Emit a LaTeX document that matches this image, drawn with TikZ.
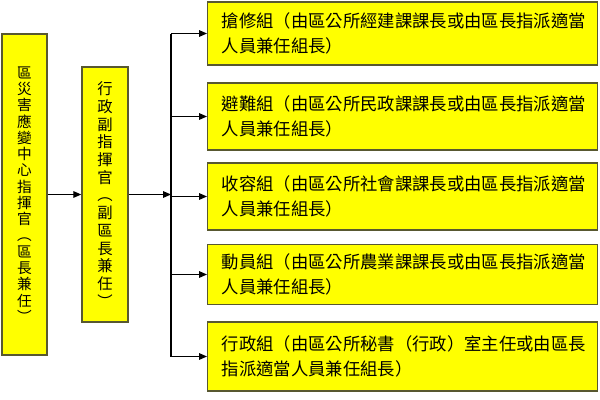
\documentclass[tikz,border=0pt]{standalone}
\usepackage{fontspec}
\setmainfont{Noto Sans CJK TC}
\usetikzlibrary{arrows.meta}
\definecolor{boxline}{RGB}{88,88,48}
\definecolor{boxfill}{RGB}{255,255,0}
\begin{document}
\begin{tikzpicture}[x=0.75pt,y=-0.75pt,
  ybox/.style={draw=boxline,fill=boxfill,line width=1.1pt,rectangle,inner sep=0pt},
  vbox/.style={ybox,align=center},
  gbox/.style={ybox,anchor=west,minimum width=292.5pt,text width=271.5pt,inner xsep=10.5pt,align=left,
     font=\fontsize{13}{18.8}\selectfont},
  arr/.style={-{Triangle[length=6pt,width=5pt]},line width=0.8pt,black},
  conn/.style={line width=0.8pt,black}]
\useasboundingbox (0,0) rectangle (600,400);
% left vertical box
\node[vbox,minimum width=33.75pt,minimum height=240.75pt,font=\fontsize{11}{12.2}\selectfont]
  (cmd) at (24.5,194.5) {區\\災\\害\\應\\變\\中\\心\\指\\揮\\官\\︵\\區\\長\\兼\\任\\︶};
% middle vertical box
\node[vbox,minimum width=34.5pt,minimum height=191.25pt,font=\fontsize{11.5}{13.3}\selectfont]
  (vice) at (105,194.5) {行\\政\\副\\指\\揮\\官\\︵\\副\\區\\長\\兼\\任\\︶};
% group boxes
\node[gbox,minimum height=47.25pt] (g1) at (207,33.5)
  {搶修組（由區公所經建課課長或由區長指派適當\\人員兼任組長）};
\node[gbox,minimum height=50.25pt] (g2) at (207,116.5)
  {避難組（由區公所民政課課長或由區長指派適當\\人員兼任組長）};
\node[gbox,minimum height=50.25pt] (g3) at (207,196.5)
  {收容組（由區公所社會課課長或由區長指派適當\\人員兼任組長）};
\node[gbox,minimum height=45pt] (g4) at (207,274.5)
  {動員組（由區公所農業課課長或由區長指派適當\\人員兼任組長）};
\node[gbox,minimum height=51.75pt] (g5) at (207,356.5)
  {行政組（由區公所秘書（行政）室主任或由區長\\指派適當人員兼任組長）};
% connectors
\coordinate (j) at (171,194.5);
\draw[arr] (cmd.east) -- (vice.west);
\draw[arr] (vice.east) -- (j);
\draw[conn] (j |- g1.west) -- (j |- g5.west);
\foreach \g in {g1,g2,g3,g4,g5}
  \draw[arr] (j |- \g.west) -- (\g.west);
\end{tikzpicture}
\end{document}
